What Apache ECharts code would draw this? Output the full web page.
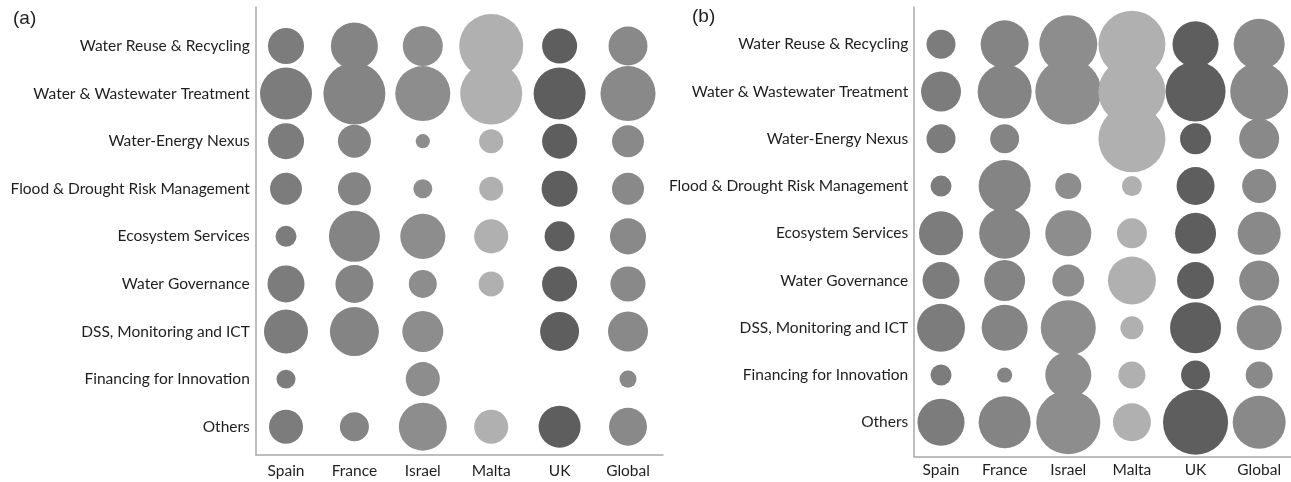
<!DOCTYPE html>
<html>
<head>
<meta charset="utf-8">
<script src="https://cdn.jsdelivr.net/npm/echarts@6/dist/echarts.min.js"></script>
<style>
  html, body { margin: 0; padding: 0; background: #ffffff; }
  #chart { width: 1291px; height: 482px; }
</style>
</head>
<body>
<div id="chart"></div>
<script>
// ---- Data (relative share; bubble area proportional to value) ----
const countries = ['Spain', 'France', 'Israel', 'Malta', 'UK', 'Global'];
const topics = [
  'Water Reuse & Recycling',
  'Water & Wastewater Treatment',
  'Water-Energy Nexus',
  'Flood & Drought Risk Management',
  'Ecosystem Services',
  'Water Governance',
  'DSS, Monitoring and ICT',
  'Financing for Innovation',
  'Others'
];
const panelLabels = ['(a)', '(b)'];

// Panel (a)
const aSpain  = [13.0, 27.0, 13.0, 10.2, 4.4, 13.7, 19.4, 3.6, 11.6];
const aFrance = [22.1, 38.4, 10.9, 10.9, 26.0, 14.4, 24.0, 0, 8.4];
const aIsrael = [16.0, 30.3, 2.0, 3.6, 20.3, 7.8, 16.8, 11.6, 23.0];
const aMalta  = [41.0, 38.4, 5.8, 5.8, 11.6, 6.3, 0, 0, 11.6];
const aUK     = [12.3, 27.0, 12.3, 13.0, 9.0, 12.3, 15.2, 0, 17.6];
const aGlobal = [15.2, 30.3, 10.2, 10.2, 13.0, 12.3, 16.0, 2.9, 14.4];

// Panel (b)
const bSpain  = [8.4, 16.0, 8.4, 4.4, 19.4, 13.7, 23.0, 4.4, 22.1];
const bFrance = [23.0, 29.2, 8.4, 27.0, 26.0, 16.8, 21.2, 2.3, 27.0];
const bIsrael = [33.6, 43.6, 0, 6.8, 21.2, 10.2, 30.3, 21.2, 41.0];
const bMalta  = [44.9, 44.9, 44.9, 4.0, 9.0, 23.0, 5.3, 7.3, 14.4];
const bUK     = [21.2, 36.0, 9.6, 14.4, 16.8, 13.7, 26.0, 8.4, 42.3];
const bGlobal = [26.0, 33.6, 16.0, 11.6, 18.5, 16.0, 20.3, 7.3, 28.1];

const colors = ['#7c7c7c', '#848484', '#8d8d8d', '#b0b0b0', '#5e5e5e', '#898989'];

const panelA = [aSpain, aFrance, aIsrael, aMalta, aUK, aGlobal];
const panelB = [bSpain, bFrance, bIsrael, bMalta, bUK, bGlobal];

// ---- Chart ----
const FONT = 'Lato';
const AXIS_COLOR = '#a8a8a8';
const TEXT_COLOR = '#1e1e1e';

function lineAxes(gridIndex) {
  return {
    x: { type: 'value', gridIndex, min: 0, max: 1, position: 'bottom',
         axisLine: { show: true, onZero: false, lineStyle: { color: AXIS_COLOR, width: 1.5 } },
         axisTick: { show: false }, axisLabel: { show: false }, splitLine: { show: false } },
    y: { type: 'value', gridIndex, min: 0, max: 1, position: 'left',
         axisLine: { show: true, onZero: false, lineStyle: { color: AXIS_COLOR, width: 1.5 } },
         axisTick: { show: false }, axisLabel: { show: false }, splitLine: { show: false } }
  };
}
function bubbleAxes(gridIndex, xMargin, yMargin) {
  return {
    x: { type: 'category', gridIndex, data: countries, boundaryGap: true,
         axisLine: { show: false }, axisTick: { show: false }, splitLine: { show: false },
         axisLabel: { margin: xMargin, fontFamily: FONT, fontSize: 15.5, color: TEXT_COLOR, interval: 0 } },
    y: { type: 'category', gridIndex, data: topics, inverse: true, boundaryGap: true,
         axisLine: { show: false }, axisTick: { show: false }, splitLine: { show: false },
         axisLabel: { margin: yMargin, fontFamily: FONT, fontSize: 15.5, color: TEXT_COLOR, interval: 0 } }
  };
}

const la = lineAxes(0), ba = bubbleAxes(1, 12, 2), lb = lineAxes(2), bb = bubbleAxes(3, 16, 1);

function makeSeries(panel, axisIndex, tag) {
  return countries.map((c, ci) => ({
    name: tag + ' ' + c,
    type: 'scatter',
    xAxisIndex: axisIndex,
    yAxisIndex: axisIndex,
    data: panel[ci]
      .map((v, ti) => [ci, ti, v])
      .filter(d => d[2] > 0),
    symbol: 'circle',
    symbolSize: d => Math.sqrt(d[2]) * 10,
    itemStyle: { color: colors[ci], opacity: 1 },
    emphasis: { disabled: true },
    silent: true
  }));
}

const option = {
  backgroundColor: '#ffffff',
  animation: false,
  title: [
    { text: panelLabels[0], left: 13, top: 9, padding: 0,
      textStyle: { fontFamily: 'Liberation Sans', fontSize: 19, fontWeight: 'normal', color: TEXT_COLOR } },
    { text: panelLabels[1], left: 692, top: 7, padding: 0,
      textStyle: { fontFamily: 'Liberation Sans', fontSize: 19, fontWeight: 'normal', color: TEXT_COLOR } }
  ],
  grid: [
    { left: 256, top: 7, width: 407, height: 448 },
    { left: 251.8, top: 22.2, width: 410.4, height: 428.3 },
    { left: 914, top: 7, width: 400, height: 449.7 },
    { left: 909.2, top: 20.7, width: 393.6, height: 425.2 }
  ],
  xAxis: [la.x, ba.x, lb.x, bb.x],
  yAxis: [la.y, ba.y, lb.y, bb.y],
  series: [].concat(makeSeries(panelA, 1, 'a'), makeSeries(panelB, 3, 'b'))
};

const chart = echarts.init(document.getElementById('chart'), null, { renderer: 'canvas' });
chart.setOption(option);
</script>
</body>
</html>
